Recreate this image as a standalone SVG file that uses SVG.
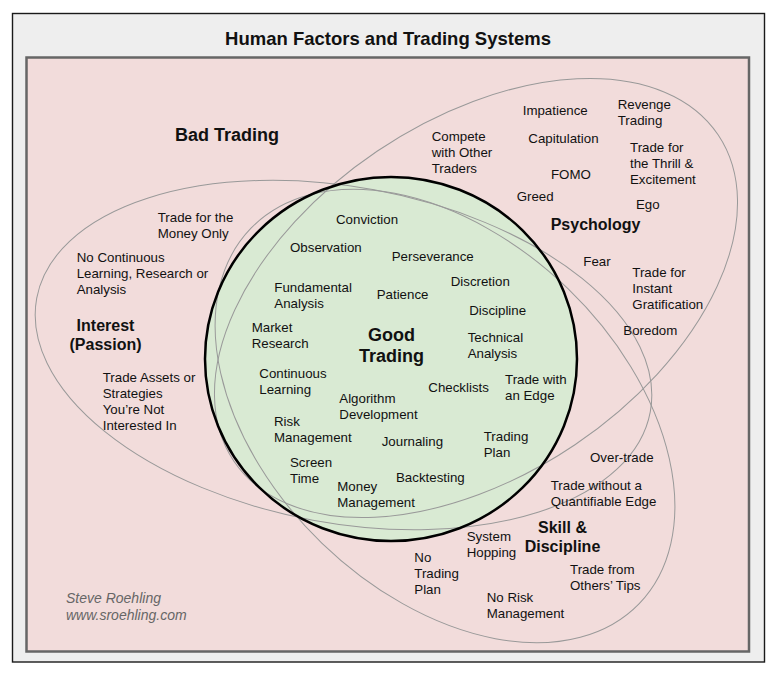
<svg xmlns="http://www.w3.org/2000/svg" width="783" height="679" viewBox="0 0 783 679">
<style>
text{font-family:"Liberation Sans",Arial,sans-serif;fill:#111}
.t{font-size:13.3px}
.h{font-size:16px;font-weight:bold}
.b{font-size:18px;font-weight:bold}
.sig{font-size:14px;font-style:italic;fill:#666}
.ell{fill:none;stroke:#999;stroke-width:1}
</style>
<rect x="0" y="0" width="783" height="679" fill="#ffffff"/>
<g id="frame">
<rect x="12.5" y="13.5" width="752" height="648.5" fill="#eeeeee" stroke="#1a1a1a" stroke-width="1.4"/>
<text class="b" x="388" y="45" text-anchor="middle" style="font-size:18.5px">Human Factors and Trading Systems</text>
</g>
<g id="bad-trading">
<rect x="26.5" y="57.5" width="722.5" height="594" fill="#f2dcdb" stroke="#666" stroke-width="2.5"/>
<text class="b" x="175" y="141">Bad Trading</text>
</g>
<g id="good-trading-area">
<ellipse cx="391" cy="359" rx="186" ry="182" fill="#d9ead3"/>
</g>
<g id="outlines">
<ellipse class="ell" cx="476" cy="298" rx="292" ry="177" transform="rotate(-34 476 298)"/>
<ellipse class="ell" cx="343.5" cy="355" rx="312" ry="168" transform="rotate(10.5 343.5 355)"/>
<ellipse class="ell" cx="445" cy="416" rx="270" ry="177" transform="rotate(44 445 416)"/>
<ellipse cx="391" cy="359" rx="186" ry="182" fill="none" stroke="#000" stroke-width="2.5"/>
</g>
<g id="psychology">
<text class="h" x="550.7" y="230">Psychology</text>
<text class="t" x="522.7" y="115">Impatience</text>
<text class="t" x="617.7" y="109.3"><tspan x="617.7">Revenge</tspan><tspan x="617.7" dy="16">Trading</tspan></text>
<text class="t" x="431.7" y="140.7"><tspan x="431.7">Compete</tspan><tspan x="431.7" dy="16">with Other</tspan><tspan x="431.7" dy="16">Traders</tspan></text>
<text class="t" x="528.3" y="143.3">Capitulation</text>
<text class="t" x="630" y="151.7"><tspan x="630">Trade for</tspan><tspan x="630" dy="16">the Thrill &amp;</tspan><tspan x="630" dy="16">Excitement</tspan></text>
<text class="t" x="551" y="179">FOMO</text>
<text class="t" x="516.7" y="200.7">Greed</text>
<text class="t" x="636" y="209">Ego</text>
<text class="t" x="583.3" y="265.7">Fear</text>
<text class="t" x="632.3" y="277.3"><tspan x="632.3">Trade for</tspan><tspan x="632.3" dy="16">Instant</tspan><tspan x="632.3" dy="16">Gratification</tspan></text>
<text class="t" x="623.3" y="335">Boredom</text>
</g>
<g id="interest">
<text class="h" text-anchor="middle" x="105.5" y="330.7"><tspan x="105.5">Interest</tspan><tspan x="105.5" dy="19.5">(Passion)</tspan></text>
<text class="t" x="157.7" y="221.7"><tspan x="157.7">Trade for the</tspan><tspan x="157.7" dy="16">Money Only</tspan></text>
<text class="t" x="76.7" y="262.3"><tspan x="76.7">No Continuous</tspan><tspan x="76.7" dy="16">Learning, Research or</tspan><tspan x="76.7" dy="16">Analysis</tspan></text>
<text class="t" x="102.7" y="381.7"><tspan x="102.7">Trade Assets or</tspan><tspan x="102.7" dy="16">Strategies</tspan><tspan x="102.7" dy="16">You’re Not</tspan><tspan x="102.7" dy="16">Interested In</tspan></text>
</g>
<g id="skill-discipline">
<text class="h" text-anchor="middle" x="562.5" y="533.3"><tspan x="562.5">Skill &amp;</tspan><tspan x="562.5" dy="18.5">Discipline</tspan></text>
<text class="t" x="590" y="462.3">Over-trade</text>
<text class="t" x="550.7" y="490"><tspan x="550.7">Trade without a</tspan><tspan x="550.7" dy="16">Quantifiable Edge</tspan></text>
<text class="t" x="466.7" y="540.7"><tspan x="466.7">System</tspan><tspan x="466.7" dy="16">Hopping</tspan></text>
<text class="t" x="414.3" y="562.3"><tspan x="414.3">No</tspan><tspan x="414.3" dy="16">Trading</tspan><tspan x="414.3" dy="16">Plan</tspan></text>
<text class="t" x="570" y="574.3"><tspan x="570">Trade from</tspan><tspan x="570" dy="16">Others’ Tips</tspan></text>
<text class="t" x="486.7" y="601.7"><tspan x="486.7">No Risk</tspan><tspan x="486.7" dy="16">Management</tspan></text>
</g>
<g id="good-trading">
<text class="b" text-anchor="middle" x="391.5" y="340.7"><tspan x="391.5">Good</tspan><tspan x="391.5" dy="21.6">Trading</tspan></text>
<text class="t" x="336" y="224.3">Conviction</text>
<text class="t" x="290" y="251.7">Observation</text>
<text class="t" x="391.7" y="261">Perseverance</text>
<text class="t" x="274.3" y="291.7"><tspan x="274.3">Fundamental</tspan><tspan x="274.3" dy="16">Analysis</tspan></text>
<text class="t" x="376.7" y="299.3">Patience</text>
<text class="t" x="450.7" y="286.3">Discretion</text>
<text class="t" x="469.2" y="315.3">Discipline</text>
<text class="t" x="251.7" y="332.3"><tspan x="251.7">Market</tspan><tspan x="251.7" dy="16">Research</tspan></text>
<text class="t" x="467.7" y="341.7"><tspan x="467.7">Technical</tspan><tspan x="467.7" dy="16">Analysis</tspan></text>
<text class="t" x="259.3" y="378"><tspan x="259.3">Continuous</tspan><tspan x="259.3" dy="16">Learning</tspan></text>
<text class="t" x="428.3" y="392.3">Checklists</text>
<text class="t" x="505" y="384.3"><tspan x="505">Trade with</tspan><tspan x="505" dy="16">an Edge</tspan></text>
<text class="t" x="339.3" y="402.7"><tspan x="339.3">Algorithm</tspan><tspan x="339.3" dy="16">Development</tspan></text>
<text class="t" x="274" y="425.7"><tspan x="274">Risk</tspan><tspan x="274" dy="16">Management</tspan></text>
<text class="t" x="381.7" y="446.3">Journaling</text>
<text class="t" x="483.7" y="441"><tspan x="483.7">Trading</tspan><tspan x="483.7" dy="16">Plan</tspan></text>
<text class="t" x="290" y="466.7"><tspan x="290">Screen</tspan><tspan x="290" dy="16">Time</tspan></text>
<text class="t" x="396" y="481.7">Backtesting</text>
<text class="t" x="337.3" y="490.7"><tspan x="337.3">Money</tspan><tspan x="337.3" dy="16">Management</tspan></text>
</g>
<g id="signature">
<text class="sig" x="66" y="603.3"><tspan x="66">Steve Roehling</tspan><tspan x="66" dy="17">www.sroehling.com</tspan></text>
</g>
</svg>
